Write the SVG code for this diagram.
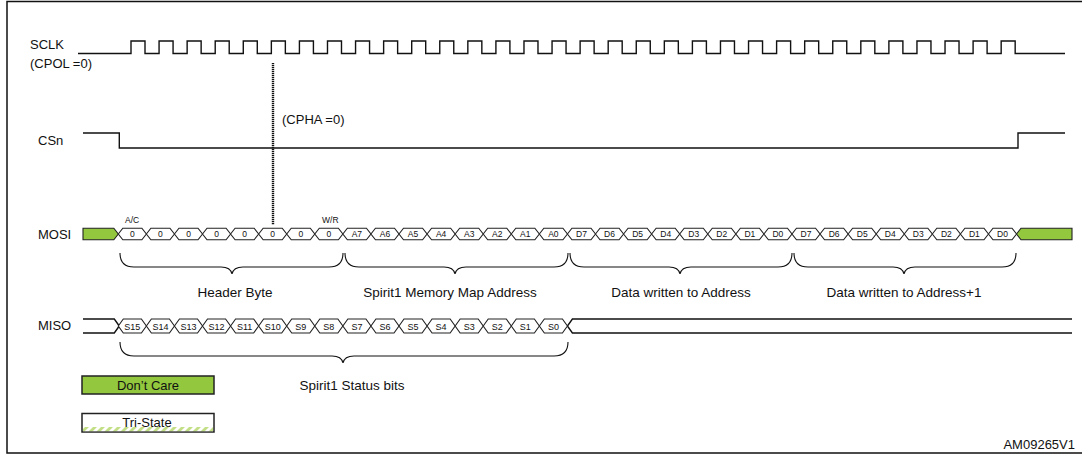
<svg xmlns="http://www.w3.org/2000/svg" xmlns:xlink="http://www.w3.org/1999/xlink" width="1082" height="463" viewBox="0 0 1082 463">
<style>
text{font-family:"Liberation Sans",Arial,sans-serif;fill:#111}
.lbl{font-size:13px}
.bl{font-size:13.5px;text-anchor:middle}
.c8{font-size:8.5px;text-anchor:middle}
.c9{font-size:9px;text-anchor:middle}
.sm{font-size:8.5px}
.mid{text-anchor:middle}
.wave{fill:none;stroke:#111;stroke-width:1.4}
.hex{fill:#fff;stroke:#222;stroke-width:1.1}
.green{fill:#93c83e;stroke:#222;stroke-width:1.1}
.brace{fill:none;stroke:#111;stroke-width:1.1}
</style>
<defs>
<polygon id="hm" class="hex" points="0,0 4.5,-5.8 23.57,-5.8 28.07,0 23.57,5.8 4.5,5.8"/>
<polygon id="hs" class="hex" points="0,0 5,-7 23.07,-7 28.07,0 23.07,7 5,7"/>
<pattern id="hatch" width="8" height="6" patternUnits="userSpaceOnUse" patternTransform="skewX(-45)">
<rect width="8" height="6" fill="#fff"/>
<rect width="4" height="6" fill="#c3df86"/>
</pattern>
</defs>
<path d="M1085,1.5 H7 V453 H1085" fill="none" stroke="#111" stroke-width="1.5"/>

<g id="sclk">
<text class="lbl" x="30" y="49">SCLK</text>
<text class="lbl" x="30" y="68">(CPOL =0)</text>
<path class="wave" d="M78 53.5 H131 v-12.5h14v12.5h14.07 v-12.5h14v12.5h14.07 v-12.5h14v12.5h14.07 v-12.5h14v12.5h14.07 v-12.5h14v12.5h14.07 v-12.5h14v12.5h14.07 v-12.5h14v12.5h14.07 v-12.5h14v12.5h14.07 v-12.5h14v12.5h14.07 v-12.5h14v12.5h14.07 v-12.5h14v12.5h14.07 v-12.5h14v12.5h14.07 v-12.5h14v12.5h14.07 v-12.5h14v12.5h14.07 v-12.5h14v12.5h14.07 v-12.5h14v12.5h14.07 v-12.5h14v12.5h14.07 v-12.5h14v12.5h14.07 v-12.5h14v12.5h14.07 v-12.5h14v12.5h14.07 v-12.5h14v12.5h14.07 v-12.5h14v12.5h14.07 v-12.5h14v12.5h14.07 v-12.5h14v12.5h14.07 v-12.5h14v12.5h14.07 v-12.5h14v12.5h14.07 v-12.5h14v12.5h14.07 v-12.5h14v12.5h14.07 v-12.5h14v12.5h14.07 v-12.5h14v12.5h14.07 v-12.5h14v12.5h14.07 v-12.5h14v12.5 H1065"/>
</g>

<g id="cpha">
<line x1="273" y1="63" x2="273" y2="225" stroke="#111" stroke-width="2.4" stroke-dasharray="1.2 0.8"/>
<text class="lbl" x="282" y="124">(CPHA =0)</text>
</g>

<g id="csn">
<text class="lbl" x="38" y="145">CSn</text>
<path class="wave" d="M83 133 H119.3 V148 H1018 V133 H1065"/>
</g>

<g id="mosi">
<text class="lbl" x="38" y="239">MOSI</text>
<polygon class="green" points="83,228.2 113.8,228.2 118.3,234 113.8,239.8 83,239.8"/>
<polygon class="green" points="1016.5,234 1021,228.2 1072,228.2 1072,239.8 1021,239.8"/>
<use xlink:href="#hm" x="118.3" y="234"/><use xlink:href="#hm" x="146.37" y="234"/><use xlink:href="#hm" x="174.44" y="234"/><use xlink:href="#hm" x="202.51" y="234"/>
<use xlink:href="#hm" x="230.58" y="234"/><use xlink:href="#hm" x="258.65" y="234"/><use xlink:href="#hm" x="286.72" y="234"/><use xlink:href="#hm" x="314.79" y="234"/>
<use xlink:href="#hm" x="342.86" y="234"/><use xlink:href="#hm" x="370.93" y="234"/><use xlink:href="#hm" x="399" y="234"/><use xlink:href="#hm" x="427.07" y="234"/>
<use xlink:href="#hm" x="455.14" y="234"/><use xlink:href="#hm" x="483.21" y="234"/><use xlink:href="#hm" x="511.28" y="234"/><use xlink:href="#hm" x="539.35" y="234"/>
<use xlink:href="#hm" x="567.42" y="234"/><use xlink:href="#hm" x="595.49" y="234"/><use xlink:href="#hm" x="623.56" y="234"/><use xlink:href="#hm" x="651.63" y="234"/>
<use xlink:href="#hm" x="679.7" y="234"/><use xlink:href="#hm" x="707.77" y="234"/><use xlink:href="#hm" x="735.84" y="234"/><use xlink:href="#hm" x="763.91" y="234"/>
<use xlink:href="#hm" x="791.98" y="234"/><use xlink:href="#hm" x="820.05" y="234"/><use xlink:href="#hm" x="848.12" y="234"/><use xlink:href="#hm" x="876.19" y="234"/>
<use xlink:href="#hm" x="904.26" y="234"/><use xlink:href="#hm" x="932.33" y="234"/><use xlink:href="#hm" x="960.4" y="234"/><use xlink:href="#hm" x="988.47" y="234"/>
<text class="sm" x="125" y="223">A/C</text>
<text class="sm" x="322" y="223">W/R</text>
<g class="c8">
<text x="132.3" y="237">0</text><text x="160.4" y="237">0</text><text x="188.5" y="237">0</text><text x="216.5" y="237">0</text>
<text x="244.6" y="237">0</text><text x="272.7" y="237">0</text><text x="300.8" y="237">0</text><text x="328.8" y="237">0</text>
<text x="356.9" y="237">A7</text><text x="385" y="237">A6</text><text x="413" y="237">A5</text><text x="441.1" y="237">A4</text>
<text x="469.2" y="237">A3</text><text x="497.2" y="237">A2</text><text x="525.3" y="237">A1</text><text x="553.4" y="237">A0</text>
<text x="581.5" y="237">D7</text><text x="609.5" y="237">D6</text><text x="637.6" y="237">D5</text><text x="665.7" y="237">D4</text>
<text x="693.7" y="237">D3</text><text x="721.8" y="237">D2</text><text x="749.9" y="237">D1</text><text x="777.9" y="237">D0</text>
<text x="806" y="237">D7</text><text x="834.1" y="237">D6</text><text x="862.2" y="237">D5</text><text x="890.2" y="237">D4</text>
<text x="918.3" y="237">D3</text><text x="946.4" y="237">D2</text><text x="974.4" y="237">D1</text><text x="1002.5" y="237">D0</text>
</g>
</g>

<g id="connectors">
<path class="brace" d="M120 253 C120 262 124 267 134 267 L221 267 C228 267 231 269 232 274 C233 269 236 267 243 267 L329 267 C339 267 343 262 343 253"/>
<path class="brace" d="M345 253 C345 262 349 267 359 267 L444 267 C451 267 454 269 455 274 C456 269 459 267 466 267 L554 267 C564 267 568 262 568 253"/>
<path class="brace" d="M570 253 C570 262 574 267 584 267 L669 267 C676 267 679 269 680 274 C681 269 684 267 691 267 L778 267 C788 267 792 262 792 253"/>
<path class="brace" d="M794 253 C794 262 798 267 808 267 L893 267 C900 267 903 269 904 274 C905 269 908 267 915 267 L1002 267 C1012 267 1016 262 1016 253"/>
<path class="brace" d="M120 342 C120 351 124 356 134 356 L332 356 C339 356 342 358 343 363 C344 358 347 356 354 356 L554 356 C564 356 568 351 568 342"/>
</g>

<g id="brace-labels" class="bl">
<text x="235" y="297">Header Byte</text>
<text x="450" y="297">Spirit1 Memory Map Address</text>
<text x="681" y="297">Data written to Address</text>
<text x="904" y="297">Data written to Address+1</text>
<text x="352" y="390">Spirit1 Status bits</text>
</g>

<g id="miso">
<text class="lbl" x="38" y="330">MISO</text>
<polyline class="wave" stroke-width="1.1" points="83,319 114.3,319 119.3,326 114.3,333 83,333"/>
<polyline class="wave" stroke-width="1.1" points="1072,319 572.4,319 567.4,326 572.4,333 1072,333"/>
<use xlink:href="#hs" x="118.3" y="326"/><use xlink:href="#hs" x="146.37" y="326"/><use xlink:href="#hs" x="174.44" y="326"/><use xlink:href="#hs" x="202.51" y="326"/>
<use xlink:href="#hs" x="230.58" y="326"/><use xlink:href="#hs" x="258.65" y="326"/><use xlink:href="#hs" x="286.72" y="326"/><use xlink:href="#hs" x="314.79" y="326"/>
<use xlink:href="#hs" x="342.86" y="326"/><use xlink:href="#hs" x="370.93" y="326"/><use xlink:href="#hs" x="399" y="326"/><use xlink:href="#hs" x="427.07" y="326"/>
<use xlink:href="#hs" x="455.14" y="326"/><use xlink:href="#hs" x="483.21" y="326"/><use xlink:href="#hs" x="511.28" y="326"/><use xlink:href="#hs" x="539.35" y="326"/>
<g class="c9">
<text x="132.3" y="329.5">S15</text><text x="160.4" y="329.5">S14</text><text x="188.5" y="329.5">S13</text><text x="216.5" y="329.5">S12</text>
<text x="244.6" y="329.5">S11</text><text x="272.7" y="329.5">S10</text><text x="300.8" y="329.5">S9</text><text x="328.8" y="329.5">S8</text>
<text x="356.9" y="329.5">S7</text><text x="385" y="329.5">S6</text><text x="413" y="329.5">S5</text><text x="441.1" y="329.5">S4</text>
<text x="469.2" y="329.5">S3</text><text x="497.2" y="329.5">S2</text><text x="525.3" y="329.5">S1</text><text x="553.4" y="329.5">S0</text>
</g>
</g>

<g id="legend-dontcare">
<rect x="82" y="376" width="132" height="18" fill="#93c83e" stroke="#222" stroke-width="1.5"/>
<text class="lbl mid" x="148" y="389.5">Don’t Care</text>
</g>
<g id="legend-tristate">
<rect x="82" y="413.5" width="132" height="18.5" fill="#fff" stroke="#222" stroke-width="1.5"/>
<rect x="83" y="427" width="130" height="4.2" fill="url(#hatch)"/>
<text class="lbl mid" x="147" y="427">Tri-State</text>
</g>

<text class="lbl" x="1075" y="449" text-anchor="end">AM09265V1</text>
</svg>
